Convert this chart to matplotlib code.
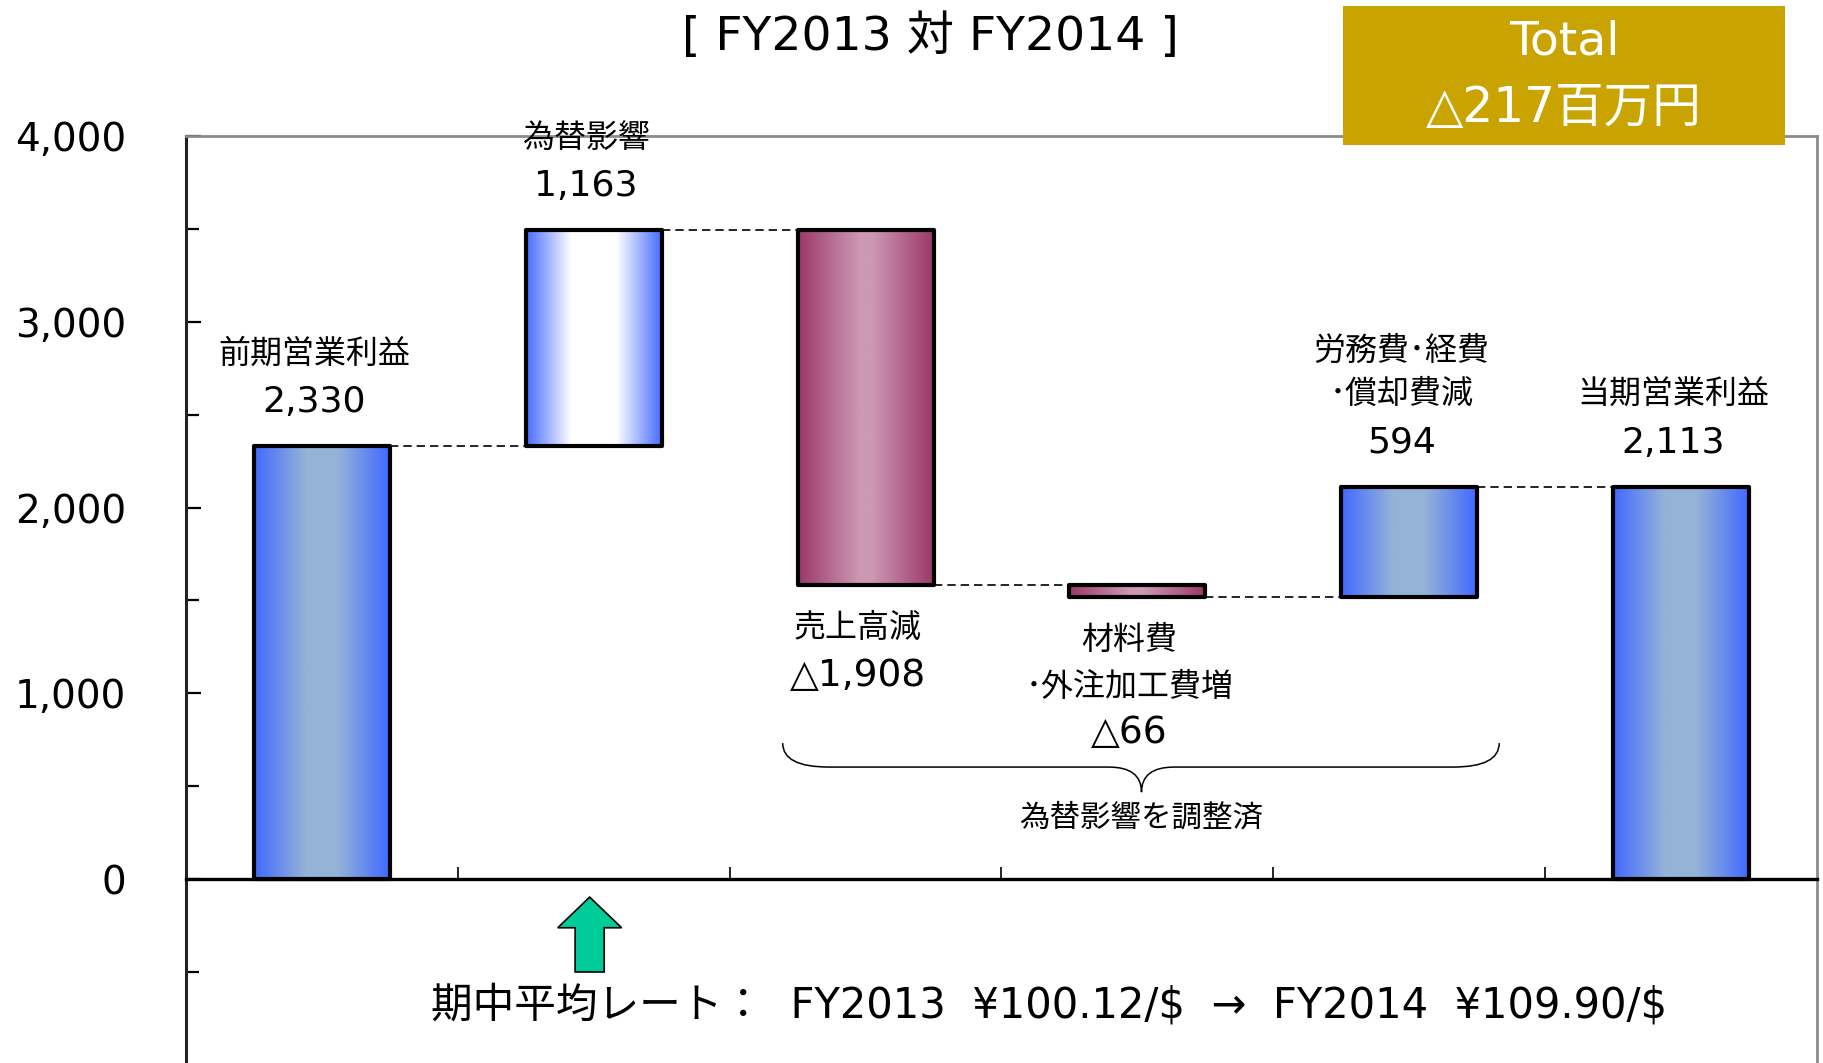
import numpy as np
import matplotlib.pyplot as plt
from matplotlib.patches import Rectangle, FancyArrow, PathPatch
from matplotlib.path import Path
from matplotlib.ticker import FuncFormatter, FixedLocator

plt.rcParams['font.family'] = ['DejaVu Sans', 'Noto Sans CJK JP']

# data (million yen)
categories = ['前期営業利益', '為替影響', '売上高減', '材料費\n･外注加工費増',
              '労務費･経費\n･償却費減', '当期営業利益']
kinds = ['total', 'delta', 'delta', 'delta', 'delta', 'total']
values = [2330, 1163, -1908, -66, 594, 2113]
styles = ['blue', 'blue_white', 'magenta', 'magenta', 'blue', 'blue']

title = '[ FY2013 対 FY2014 ]'
total_text = ['Total', '△217百万円']
brace_text = '為替影響を調整済'
rate_text = r'期中平均レート：  FY2013  ¥100.12/\$  →  FY2014  ¥109.90/\$'

# waterfall geometry
bottoms, heights, levels = [], [], []
level = 0
for v, k in zip(values, kinds):
    if k == 'total':
        bottoms.append(0)
        heights.append(v)
        level = v
    else:
        bottoms.append(level if v > 0 else level + v)
        heights.append(abs(v))
        level += v
    levels.append(level)

x = np.arange(len(values))

palette = {
    'blue': ((65, 105, 255), (149, 179, 215), 1.3),
    'blue_white': ((70, 108, 255), (255, 255, 255), 1.5),
    'magenta': ((155, 56, 104), (205, 152, 180), 1.1),
}


def gradient(edge, mid, sharp):
    u = np.linspace(0, 1, 200)
    t = np.clip((1 - np.abs(2 * u - 1)) * sharp, 0, 1)
    edge = np.array(edge, float)
    mid = np.array(mid, float)
    rgb = edge + (mid - edge) * t[:, None]
    return rgb[None, :, :] / 255


W, H = 1823, 1063
fig = plt.figure(figsize=(W / 100, H / 100), dpi=100)
ax = fig.add_axes([186 / W, 0, (1817 - 186) / W, 1 - 136 / H])

bars = ax.bar(x, heights, bottom=bottoms, width=0.5, facecolor='none',
              edgecolor='black', linewidth=3, zorder=3)
for rect, st in zip(bars, styles):
    rect.set_joinstyle('round')
    edge, mid, sharp = palette[st]
    x0, y0 = rect.get_x(), rect.get_y()
    im = ax.imshow(gradient(edge, mid, sharp), aspect='auto', zorder=2,
                   interpolation='bilinear',
                   extent=(x0, x0 + rect.get_width(), y0, y0 + rect.get_height()))
    im.set_clip_path(rect)

# connectors
for i in range(len(values) - 1):
    ax.plot([x[i] + 0.25, x[i + 1] - 0.25], [levels[i], levels[i]], color='black',
            lw=1.2, dashes=(5, 3), zorder=1)

# labels
for i, (cat, v, k) in enumerate(zip(categories, values, kinds)):
    vtxt = ('△' if v < 0 else '') + f'{abs(v):,}'
    lines = cat.split('\n')
    if v > 0:
        stack = [(vtxt, 26)] + [(l, 23) for l in reversed(lines)]
        y = bottoms[i] + heights[i]
        offs = [44, 92, 135]
    else:
        stack = [(l, 23) for l in lines] + [(vtxt, 27)]
        y = bottoms[i]
        offs = [-44, -91, -136]
    for (txt, fs), off in zip(stack, offs):
        ax.annotate(txt, (x[i], y), xytext=(-8, off), textcoords='offset pixels',
                    ha='center', va='center', fontsize=fs, zorder=5)

# brace under the adjusted items
xl, xr, xc = 1.695, 4.331, 3.015
yt, ym, yp = 732, 603, 468
verts = [(xl, yt), (xl, ym), (xl + 0.17, ym), (xc - 0.12, ym), (xc, ym), (xc, yp),
         (xc, ym), (xc + 0.12, ym), (xr - 0.17, ym), (xr, ym), (xr, yt)]
codes = [Path.MOVETO, Path.CURVE3, Path.CURVE3, Path.LINETO, Path.CURVE3, Path.CURVE3,
         Path.CURVE3, Path.CURVE3, Path.LINETO, Path.CURVE3, Path.CURVE3]
ax.add_patch(PathPatch(Path(verts, codes), fc='none', ec='black', lw=1.1))
ax.text(xc, 330, brace_text, ha='center', va='center', fontsize=22)

# rate arrow and text
ax.add_patch(FancyArrow(0.985, -500, 0, 403, width=0.107, head_width=0.235,
                        head_length=165, length_includes_head=True,
                        fc='#00CC99', ec='black', lw=1.2, zorder=4))
ax.text(2.676, -680, rate_text, ha='center', va='center', fontsize=30)

ax.set_xlim(-0.5, 5.5)
ax.set_ylim(-990, 4000)

ax.yaxis.set_major_locator(FixedLocator([0, 1000, 2000, 3000, 4000]))
ax.yaxis.set_minor_locator(FixedLocator([-500, 500, 1500, 2500, 3500]))
ax.yaxis.set_major_formatter(FuncFormatter(lambda v, p: f'{v:,.0f}'))
ax.tick_params(axis='y', which='both', direction='in', width=1.6, pad=43,
               labelsize=28, color='black')
ax.tick_params(axis='y', which='major', length=11)
ax.tick_params(axis='y', which='minor', length=9)
ax.xaxis.set_major_locator(FixedLocator([0.5, 1.5, 2.5, 3.5, 4.5]))
ax.tick_params(axis='x', direction='in', length=9, width=1.2, labelbottom=False)

ax.spines['bottom'].set_position(('data', 0))
ax.spines['bottom'].set_linewidth(2.4)
ax.spines['left'].set_linewidth(2.2)
ax.spines['left'].set_color('#222222')
for s in ['top', 'right']:
    ax.spines[s].set_color('#8c8c8c')
    ax.spines[s].set_linewidth(2)

# title and total box
fig.text(930 / W, 1 - 37 / H, title, ha='center', va='center', fontsize=34)
fig.add_artist(Rectangle((1343 / W, 1 - 145 / H), (1785 - 1343) / W, 139 / H,
                         transform=fig.transFigure, fc='#C9A400', ec='none', zorder=5))
fig.text(1564 / W, 1 - 42 / H, total_text[0], ha='center', va='center',
         fontsize=34, color='white', zorder=6)
fig.text(1564 / W, 1 - 108 / H, total_text[1], ha='center', va='center',
         fontsize=35, color='white', zorder=6)

fig.savefig('out.png', dpi=100)
